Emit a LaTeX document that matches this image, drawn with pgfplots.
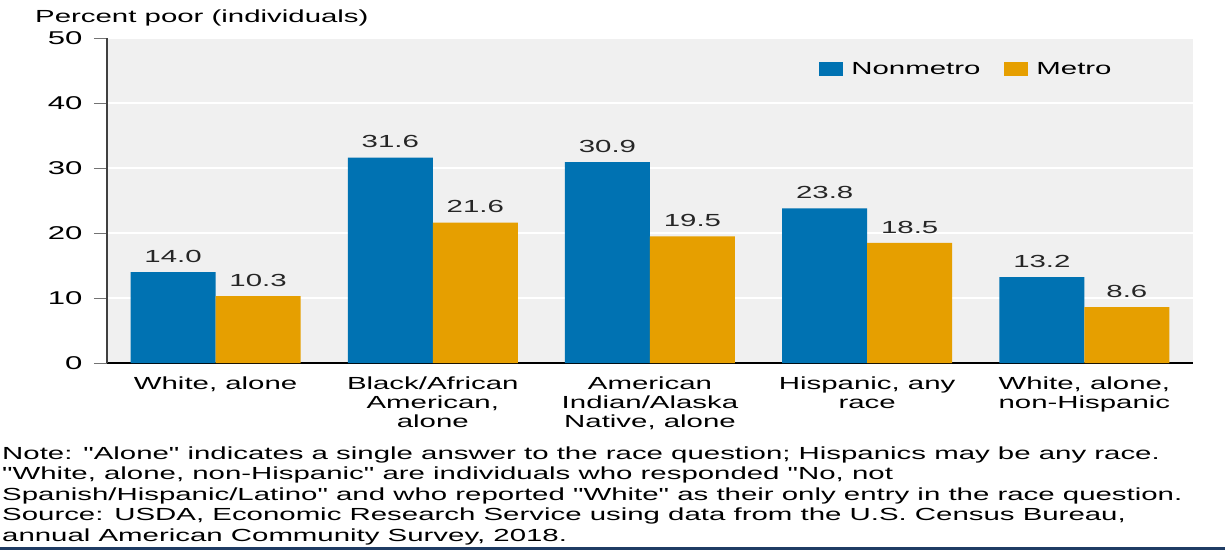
\documentclass[border=0pt]{standalone}
\usepackage{pgfplots}
\pgfplotsset{compat=1.18}
\usepackage{fontspec}
\setmainfont{Liberation Sans}[FakeStretch=1.68, Ligatures=TeXOff]
\definecolor{nonmetro}{HTML}{0072B2}
\definecolor{metro}{HTML}{E69F00}
\definecolor{bggray}{HTML}{F0F0F0}
\definecolor{navy}{HTML}{1F3C64}
\begin{document}
\begin{tikzpicture}[font=\fontsize{17.5}{20.5}\selectfont]
\useasboundingbox (-107pt,-187pt) rectangle (1118pt,363pt);
\begin{axis}[
  at={(0pt,0pt)}, anchor=south west,
  scale only axis, width=1086pt, height=325pt,
  xmin=-0.5, xmax=4.5, ymin=0, ymax=50,
  ytick={0,10,...,50},
  yticklabel style={xshift=-8pt, font=\fontsize{18.5}{20}\selectfont},
  xtick=data,
  xticklabels={{White, alone},{Black/African\\American,\\alone},{American\\Indian/Alaska\\Native, alone},{Hispanic, any\\race},{White, alone,\\non-Hispanic}},
  xticklabel style={align=center, font=\fontsize{17.5}{19}\selectfont, yshift=3pt},
  xtick style={draw=none},
  axis lines=left,
  axis line style={-},
  x axis line style={black, line width=1.6pt},
  y axis line style={black!75, line width=1.3pt},
  ytick style={black!55, line width=0.8pt},
  tick align=outside,
  major tick length=13pt,
  /pgf/number format/assume math mode=true,
  axis background/.style={fill=bggray},
  ymajorgrids,
  major grid style={white, line width=1.5pt},
  ybar=0pt,
  bar width=85pt,
  nodes near coords,
  nodes near coords style={/pgf/number format/fixed, /pgf/number format/precision=1, /pgf/number format/fixed zerofill, /pgf/number format/assume math mode=true, black!85, yshift=6pt},
  legend style={draw=none, fill=none, at={(0.653,0.905)}, anchor=west, legend columns=2,
    /tikz/every odd column/.append style={column sep=6pt},
    /tikz/every even column/.append style={column sep=22pt}},
  legend cell align=left,
  legend image code/.code={\fill[#1] (0pt,-7pt) rectangle (24pt,7pt);},
  clip=false,
]
\addplot[fill=nonmetro, draw=none] coordinates {(0,14.0) (1,31.6) (2,30.9) (3,23.8) (4,13.2)};
\addplot[fill=metro, draw=none] coordinates {(0,10.3) (1,21.6) (2,19.5) (3,18.5) (4,8.6)};
\legend{Nonmetro, Metro}
\end{axis}
\node[anchor=base west, inner sep=0pt] at (-72pt,341pt) {Percent poor (individuals)};
\node[anchor=base west, inner sep=0pt] at (-105pt,-96pt) {Note: "Alone" indicates a single answer to the race question; Hispanics may be any race.};
\node[anchor=base west, inner sep=0pt] at (-105pt,-116.5pt) {"White, alone, non-Hispanic" are individuals who responded "No, not};
\node[anchor=base west, inner sep=0pt] at (-105pt,-137pt) {Spanish/Hispanic/Latino" and who reported "White" as their only entry in the race question.};
\node[anchor=base west, inner sep=0pt] at (-105pt,-157.5pt) {Source: USDA, Economic Research Service using data from the U.S. Census Bureau,};
\node[anchor=base west, inner sep=0pt] at (-105pt,-178pt) {annual American Community Survey, 2018.};
\fill[navy] (-107pt,-187pt) rectangle (1118pt,-184pt);
\end{tikzpicture}
\end{document}
